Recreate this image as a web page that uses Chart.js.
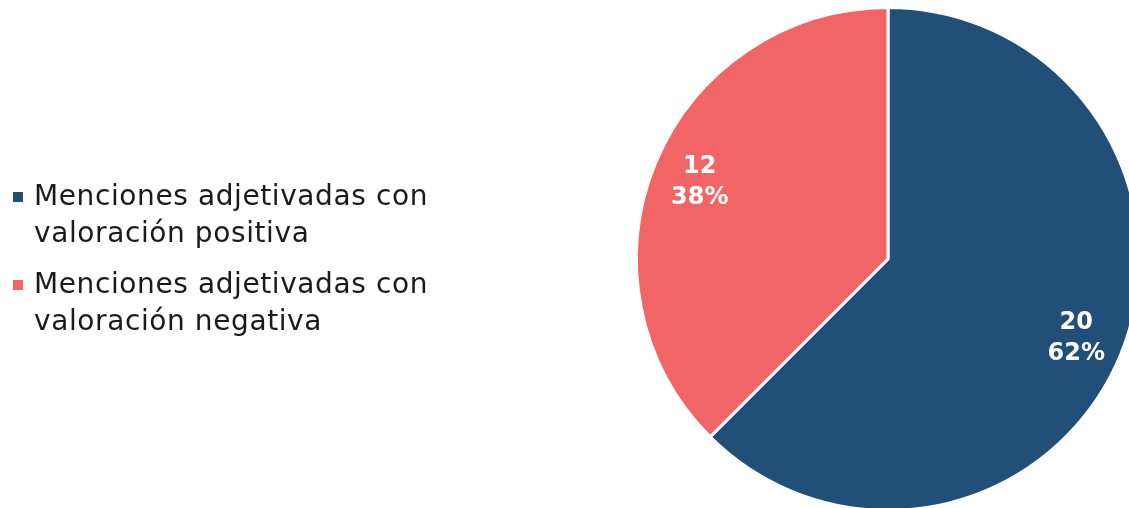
<!DOCTYPE html>
<html>
<head>
<meta charset="utf-8">
<script src="https://cdn.jsdelivr.net/npm/chart.js@4/dist/chart.umd.min.js"></script>
<style>
  html, body { margin:0; padding:0; background:#fff; width:1129px; height:508px; overflow:hidden; position:relative; }
  #wrap { position:absolute; left:0; top:0; width:1160px; height:530px; }
  #legend { position:absolute; left:13px; top:177px; font-family:"DejaVu Sans", sans-serif; font-size:28px; letter-spacing:0.6px; color:#1a1a1a; line-height:37px; }
  .item { position:relative; padding-left:21px; margin-bottom:14px; width:440px; white-space:nowrap; }
  .sw { position:absolute; left:0; top:15px; width:10px; height:10px; }
</style>
</head>
<body>
<div id="wrap"><canvas id="c" width="1160" height="530"></canvas></div>
<div id="legend"></div>
<script>
const categories = ["Menciones adjetivadas con valoración positiva", "Menciones adjetivadas con valoración negativa"];
const legendLines = [["Menciones adjetivadas con", "valoración positiva"], ["Menciones adjetivadas con", "valoración negativa"]];
const values = [20, 12];
const percents = ["62%", "38%"];
const colors = ["#214F78", "#F16567"];

const leg = document.getElementById('legend');
categories.forEach((c, i) => {
  const d = document.createElement('div');
  d.className = 'item';
  d.innerHTML = '<span class="sw" style="background:' + colors[i] + '"></span>' + legendLines[i].join('<br>');
  leg.appendChild(d);
});

const labelPlugin = {
  id: 'sliceLabels',
  afterDatasetsDraw(chart) {
    const ctx = chart.ctx;
    const meta = chart.getDatasetMeta(0);
    ctx.save();
    ctx.fillStyle = '#ffffff';
    ctx.font = 'bold 24px "DejaVu Sans", sans-serif';
    ctx.textAlign = 'center';
    ctx.textBaseline = 'middle';
    meta.data.forEach((arc, i) => {
      const p = arc.getProps(['x','y','startAngle','endAngle','outerRadius'], true);
      const mid = (p.startAngle + p.endAngle) / 2;
      const r = p.outerRadius * 0.81;
      const x = p.x + Math.cos(mid) * r;
      const y = p.y + Math.sin(mid) * r;
      ctx.fillText(String(values[i]), x, y - 14);
      ctx.fillText(percents[i], x, y + 17);
    });
    ctx.restore();
  }
};

new Chart(document.getElementById('c'), {
  type: 'pie',
  data: {
    labels: categories,
    datasets: [{
      data: values,
      backgroundColor: colors,
      borderColor: '#ffffff',
      borderWidth: 3
    }]
  },
  options: {
    responsive: false,
    animation: false,
    devicePixelRatio: 1,
    layout: { padding: { left: 635, right: 19, top: 6, bottom: 18 } },
    plugins: { legend: { display: false }, tooltip: { enabled: false } }
  },
  plugins: [labelPlugin]
});
</script>
</body>
</html>
